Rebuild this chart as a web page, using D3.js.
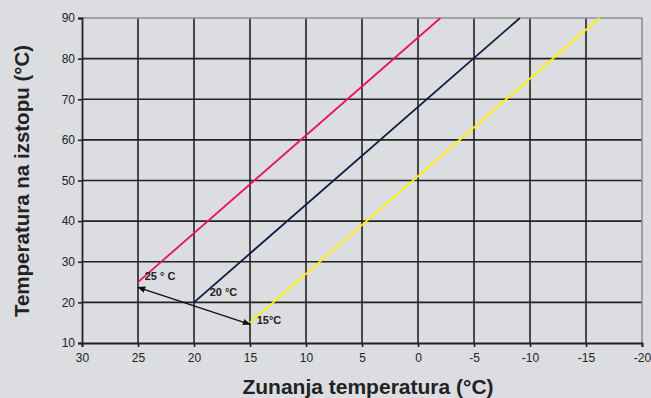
<!DOCTYPE html>
<html><head><meta charset="utf-8">
<script src="https://cdn.jsdelivr.net/npm/d3@7"></script>
<style>
html,body{margin:0;padding:0;background:#dcdde0;}
svg{display:block;font-family:"Liberation Sans",Arial,sans-serif;}
</style></head>
<body><svg id="c" width="651" height="398"></svg>
<script>
const xTicks = [30,25,20,15,10,5,0,-5,-10,-15,-20];
const yTicks = [10,20,30,40,50,60,70,80,90];
const seriesNames = ["25 °C","20 °C","15 °C"];
const seriesColors = ["#e8116e","#141a45","#fff200"];
const seriesStart = [[25,25],[20,20],[15,15]];
const seriesEnd = [[-2,90],[-9.1,90],[-16.2,90]];
const arrowFrom = [25,23.7];
const arrowTo = [15,14.6];
const labelText = ["25 ° C","20 °C","15°C"];
const labelPos = [[24.4,25.5],[18.6,21.5],[14.4,14.6]];

const svg = d3.select("#c");
const L=82,R=642,T=18,B=343;
const x = d3.scaleLinear().domain([30,-20]).range([L,R]);
const y = d3.scaleLinear().domain([10,90]).range([B,T]);

// grid
const g = svg.append("g");
g.selectAll(".vg").data(xTicks.filter(d=>d!==30&&d!==-20)).join("line")
 .attr("x1",d=>x(d)).attr("x2",d=>x(d)).attr("y1",T).attr("y2",B)
 .attr("stroke","#222").attr("stroke-width",1.6);
g.selectAll(".hg").data(yTicks.filter(d=>d!==10&&d!==90)).join("line")
 .attr("x1",L).attr("x2",R).attr("y1",d=>y(d)).attr("y2",d=>y(d))
 .attr("stroke","#222").attr("stroke-width",1.6);
// top/right border gray
svg.append("path").attr("d",`M${L},${T}H${R}V${B}`).attr("fill","none")
 .attr("stroke","#8e8e8e").attr("stroke-width",1.6);

// axes
const xa = svg.append("g").attr("transform",`translate(0,${B})`)
 .call(d3.axisBottom(x).tickValues(xTicks).tickSize(4).tickPadding(6).tickFormat(d3.format("d")));
const ya = svg.append("g").attr("transform",`translate(${L},0)`)
 .call(d3.axisLeft(y).tickValues(yTicks).tickSize(4).tickPadding(3).tickFormat(d3.format("d")));
[xa,ya].forEach(a=>{
  a.select(".domain").attr("stroke","#222").attr("stroke-width",1.8);
  a.selectAll(".tick line").attr("stroke","#222").attr("stroke-width",1.6);
  a.selectAll(".tick text").attr("fill","#222").style("font-size","12px").style("font-family","Liberation Sans, Arial, sans-serif");
});
xa.selectAll(".tick text").text(d=>String(d));

// series lines
seriesNames.forEach((n,i)=>{
  svg.append("line")
   .attr("x1",x(seriesStart[i][0])).attr("y1",y(seriesStart[i][1]))
   .attr("x2",x(seriesEnd[i][0])).attr("y2",y(seriesEnd[i][1]))
   .attr("stroke",seriesColors[i]).attr("stroke-width",1.8);
});

// arrow
const defs = svg.append("defs");
defs.append("marker").attr("id","ma").attr("viewBox","0 0 10 10")
 .attr("refX",9).attr("refY",5).attr("markerWidth",8).attr("markerHeight",8)
 .attr("orient","auto-start-reverse").attr("markerUnits","userSpaceOnUse")
 .append("path").attr("d","M0,1L10,5L0,9Z").attr("fill","#111");
svg.append("line")
 .attr("x1",x(arrowFrom[0])).attr("y1",y(arrowFrom[1]))
 .attr("x2",x(arrowTo[0])).attr("y2",y(arrowTo[1]))
 .attr("stroke","#111").attr("stroke-width",1.4)
 .attr("marker-start","url(#ma)").attr("marker-end","url(#ma)");

// labels
svg.selectAll(".lbl").data(labelText).join("text")
 .attr("x",(d,i)=>x(labelPos[i][0])).attr("y",(d,i)=>y(labelPos[i][1]))
 .attr("fill","#222").style("font-size","11px").style("font-weight","bold")
 .text(d=>d);

// axis titles
svg.append("text").attr("x",368).attr("y",394).attr("text-anchor","middle")
 .attr("fill","#222").style("font-size","21px").style("font-weight","bold")
 .text("Zunanja temperatura (°C)");
svg.append("text").attr("transform",`translate(29,181) rotate(-90)`).attr("text-anchor","middle")
 .attr("fill","#222").style("font-size","20.5px").style("font-weight","bold")
 .text("Temperatura na izstopu (°C)");
</script></body></html>
